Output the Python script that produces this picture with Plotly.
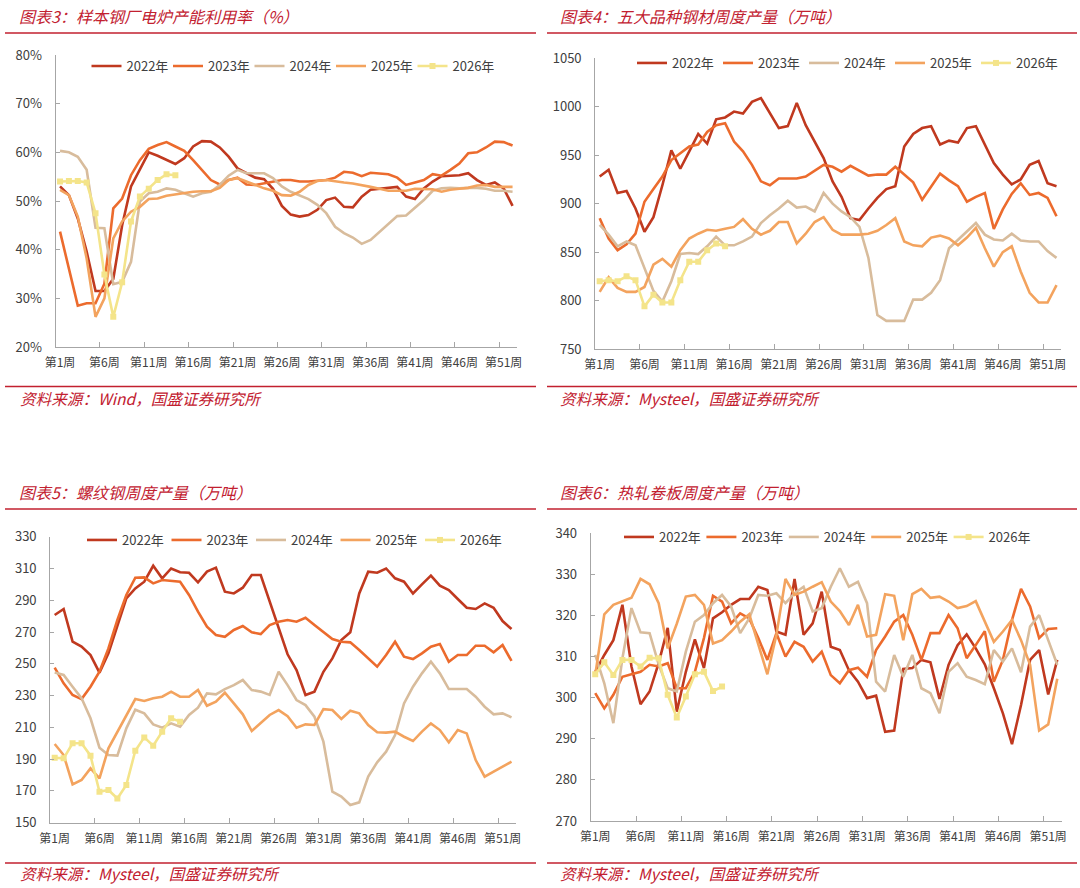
import plotly.graph_objects as go

W, H = 1080, 888

# ---------------- data ----------------
weeks = list(range(1, 53))
week_ticks = [1, 6, 11, 16, 21, 26, 31, 36, 41, 46, 51]
week_tick_labels = [f"第{w}周" for w in week_ticks]
years = ["2022年", "2023年", "2024年", "2025年", "2026年"]

# 图表3 样本钢厂电炉产能利用率（%）
eaf_2022 = [53, 51.2, 46.4, 39.6, 31.5, 31.5, 34, 45, 53, 56.5, 60, 59.3, 58.4, 57.6, 58.8, 61.2, 62.3, 62.2, 61, 59.1,
            56.7, 55.8, 54.8, 54.5, 52.5, 49, 47.2, 46.8, 47.1, 48.2, 50.2, 50.7, 48.8, 48.7, 50.9, 52.3, 52.5, 52.7, 52.9, 50.9,
            50.4, 52.6, 54, 55.1, 55.2, 55.3, 55.7, 54.3, 53.3, 53.8, 52.6, 49]
eaf_2023 = [43.7, 36, 28.5, 29, 29, 33, 48.5, 50.5, 55.3, 58.4, 60.7, 61.5, 62.1, 61.2, 60.3, 58.4, 56.4, 54.3, 53.4, 54.3,
            54.8, 53.4, 53.3, 53.6, 54, 54.3, 54.3, 54, 54, 54.2, 54.3, 54.8, 56, 55.8, 55.1, 55.8, 55.7, 55.5, 54.8, 53.3,
            53.8, 54.3, 55.5, 55.2, 56.4, 57.7, 59.8, 60, 61, 62.2, 62.1, 61.4]
eaf_2024 = [60.3, 60, 59.1, 56.4, 44.5, 44.4, 32.9, 33.4, 37.5, 49.9, 51.6, 51.9, 52.6, 52.3, 51.6, 50.9, 51.6, 51.9, 53.3, 55.2,
            56.4, 55.7, 55.7, 55.7, 54.7, 53, 51.9, 51.1, 50.4, 49.2, 47.5, 44.7, 43.4, 42.5, 41.2, 42, 43.7, 45.4, 46.9, 47,
            48.5, 50.2, 52.1, 52.6, 52.7, 52.6, 52.7, 52.7, 52.5, 52.1, 52.1, 51.9]
eaf_2025 = [52.3, 51.2, 46.8, 38.2, 26.2, 30, 42.3, 45.8, 47.8, 48.8, 50.4, 50.5, 51.1, 51.4, 51.7, 51.9, 52, 52, 52.7, 54.3,
            54.7, 54, 53.3, 52.6, 52.1, 51.2, 51.1, 51.9, 53.3, 54.1, 54.3, 54, 53.8, 53.6, 53.3, 52.9, 52.5, 52.1, 52.1, 52.1,
            52.5, 52.4, 52.4, 51.9, 52.3, 52.5, 52.7, 53.2, 53.3, 52.9, 52.9, 52.9]
eaf_2026 = [54, 54.1, 54.1, 53.8, 47.5, 34.9, 26.2, 33.3, 45.8, 50.9, 52.5, 54.3, 55.5, 55.3]

# 图表4 五大品种钢材周度产量（万吨）
five_2022 = [928, 935, 911, 913, 895, 871, 886, 919, 955, 936, 954, 972, 962, 987, 989, 995, 993, 1005, 1009, 993,
             978, 980, 1004, 981, 964, 947, 923, 907, 885, 883, 895, 906, 915, 918, 959, 972, 978, 980, 961, 965,
             963, 978, 980, 961, 942, 930, 920, 925, 940, 944, 921, 918]
five_2023 = [885, 864, 852, 858, 869, 902, 915, 928, 945, 952, 959, 961, 974, 981, 983, 964, 954, 940, 923, 919,
             926, 926, 926, 928, 934, 940, 938, 933, 939, 934, 929, 930, 930, 938, 930, 922, 904, 918, 931, 924,
             918, 902, 907, 911, 874, 894, 910, 921, 909, 911, 906, 887]
five_2024 = [878, 868, 856, 861, 857, 833, 810, 799, 820, 848, 849, 848, 856, 866, 857, 857, 861, 866, 880, 888,
             895, 903, 896, 897, 892, 911, 900, 892, 886, 876, 844, 785, 779, 779, 779, 801, 801, 808, 821, 854,
             863, 871, 880, 868, 863, 862, 869, 862, 861, 861, 851, 844]
five_2025 = [809, 824, 813, 809, 809, 814, 837, 843, 835, 852, 864, 869, 873, 872, 874, 876, 884, 874, 868, 872,
             881, 881, 859, 869, 881, 886, 873, 868, 868, 868, 869, 872, 878, 885, 861, 857, 856, 865, 867, 864,
             857, 865, 875, 854, 835, 850, 856, 830, 808, 798, 798, 816]
five_2026 = [820, 821, 820, 825, 821, 794, 806, 798, 798, 821, 840, 840, 852, 859, 856]

# 图表5 螺纹钢周度产量（万吨）
rebar_2022 = [280.7, 284.5, 264, 260.8, 255.5, 244.4, 256.6, 273.4, 291.2, 297.5, 301.7, 311.7, 303.8, 310, 307.6, 307.3,
              301.3, 308, 310.5, 295.4, 294.3, 297.9, 305.9, 305.9, 289, 273, 256, 246.1, 230.4, 232.5, 245, 253.4,
              265, 269.8, 294.3, 308, 307.3, 310, 303.8, 301.7, 294.3, 300, 305.5, 299.2, 296.4, 290.8, 285.3, 284.5,
              288, 285.3, 276.9, 271.9]
rebar_2023 = [247.6, 237.7, 230.4, 227.8, 235.6, 245, 259.7, 277.6, 293.3, 304.2, 304.4, 300.6, 302.7, 302.1, 301.7, 293.3,
              282.8, 273.4, 268.1, 267, 271.3, 273.8, 269.8, 268.7, 274.4, 276.5, 277.6, 276.5, 279, 274.4, 269.8, 265.6,
              263.9, 263.5, 258.7, 253.4, 248.2, 255.5, 263.9, 254.5, 253, 256.6, 260.8, 262.5, 251.3, 255.5, 255.5, 261.4,
              261.4, 257.2, 261.8, 251.8]
rebar_2024 = [244.6, 243, 235.6, 228.3, 215.7, 197.2, 192.6, 192.2, 209.4, 221.1, 218.8, 211.9, 209.8, 212.5, 210.4, 217.8,
              222.4, 231.4, 230.8, 234.1, 236.6, 239.8, 233.5, 232.5, 230.4, 245, 236.6, 227.2, 224, 216.7, 201, 169.5,
              166.4, 161.1, 162.8, 179, 188, 194.7, 205.2, 225.1, 235.6, 244, 251.3, 244, 234.1, 234.1, 234.1, 229.3,
              223, 218.2, 218.8, 216.3]
rebar_2025 = [199.5, 192.6, 174.1, 176.9, 184.2, 177.9, 196.8, 207.3, 217.4, 227.8, 226.6, 228.3, 229.3, 232.5, 229.3, 229.3,
              233.5, 223.6, 226.2, 231.8, 225.1, 218.2, 207.7, 212.5, 217.8, 220.9, 217.1, 209.8, 211.9, 211.5, 221.5, 220.9,
              215.3, 220.5, 218.8, 211.5, 206.9, 206.7, 207.3, 204.1, 201.4, 207.3, 212.5, 208.3, 200.6, 208.3, 206.2, 189.4,
              179, 182.1, 185.3, 188.4]
rebar_2026 = [190.9, 190.5, 200, 200, 192.2, 169.5, 170.6, 165.3, 173.7, 195.3, 203.7, 198.5, 207.3, 215.7, 213.6]

# 图表6 热轧卷板周度产量（万吨）
hrc_2022 = [306.3, 310.4, 314, 322.6, 307.6, 298.4, 301.5, 308.4, 317, 296.6, 306.3, 314.2, 307.2, 319.3, 320.8, 322.6,
            324, 324, 327, 326.2, 316.1, 315.3, 328.9, 315.3, 318.1, 325.8, 312.4, 311.6, 306.7, 303.9, 299.9, 300.5,
            291.7, 292, 307, 307.2, 309.2, 308.6, 299.7, 308, 312.8, 315.4, 312, 308.1, 302.3, 296.2, 288.7, 298.2,
            309.2, 311.6, 300.8, 309.2]
hrc_2023 = [301.1, 297.4, 300.7, 305.1, 305.7, 306.3, 308, 307.6, 308.4, 302.3, 302.3, 306.3, 314.5, 324.8, 323.4, 318.1,
            320.5, 319.3, 314.5, 309.2, 315.7, 310, 313.6, 312.4, 308.8, 311.2, 305.5, 303.5, 306.7, 307.3, 305.1, 311.6,
            314.9, 318.5, 320.1, 315.3, 309.2, 315.7, 315.7, 320.1, 316.9, 309.6, 312.8, 316.2, 303.9, 309.2, 318.9, 326.5,
            322.2, 314.5, 316.7, 316.9]
hrc_2024 = [310.4, 303.5, 293.8, 309.6, 321.8, 315.9, 315.7, 308.1, 302.3, 301.5, 311.2, 318.5, 320.1, 323, 325, 322.2,
            315.7, 319.3, 325, 324.8, 325.4, 323, 325.4, 327, 321, 321.8, 327, 331.5, 327, 328.2, 323, 303.9,
            301.5, 310.4, 305.1, 310.4, 302.3, 301.1, 296.2, 306.3, 308.4, 305.1, 304.3, 303.3, 311.6, 308.8, 312, 306.2,
            317.3, 320.1, 314, 308]
hrc_2025 = [305.5, 320.3, 322.6, 323.4, 324.3, 328.9, 327.6, 323, 312, 318, 324.6, 325, 322.6, 313.2, 314, 316.1,
            318.5, 320.3, 312.8, 305.7, 315.3, 328.9, 325, 325.8, 327, 328.1, 323.4, 321.1, 317.7, 322.6, 314.9, 315.3,
            325.2, 324.8, 314, 325.2, 326.5, 324.3, 324.6, 323.4, 321.8, 322.3, 323.5, 318.5, 313.6, 316.1, 318.9, 314,
            308, 292, 293.5, 304.6]
hrc_2026 = [305.7, 308.6, 305.5, 309.2, 309.2, 307.6, 309.7, 309.6, 300.7, 295.2, 300.3, 305.7, 306.3, 301.6, 302.7]

titles = ["图表3：样本钢厂电炉产能利用率（%）", "图表4：五大品种钢材周度产量（万吨）",
          "图表5：螺纹钢周度产量（万吨）", "图表6：热轧卷板周度产量（万吨）"]
sources = ["资料来源：Wind，国盛证券研究所", "资料来源：Mysteel，国盛证券研究所",
           "资料来源：Mysteel，国盛证券研究所", "资料来源：Mysteel，国盛证券研究所"]

panels = [
    [eaf_2022, eaf_2023, eaf_2024, eaf_2025, eaf_2026],
    [five_2022, five_2023, five_2024, five_2025, five_2026],
    [rebar_2022, rebar_2023, rebar_2024, rebar_2025, rebar_2026],
    [hrc_2022, hrc_2023, hrc_2024, hrc_2025, hrc_2026],
]
y_ranges = [[20, 80], [750, 1050], [150, 330], [270, 340]]
y_dticks = [10, 50, 20, 10]
y_suffix = ["%", "", "", ""]

# ---------------- styling / layout ----------------
colors = ["#C0391F", "#EC6B2D", "#D8BC9C", "#F3A35E", "#F4E48A"]
RED = "#C2202F"
AXC = "#A6A6A6"
TXT = "#404040"
FONT = "Noto Sans CJK SC"

def fx(px):
    return px / W

def fy(py):
    return 1 - py / H

# plot areas (left, right, top, bottom) in px
areas = [(55.6, 517, 55, 347), (595.2, 1061, 58.3, 349), (50.2, 516, 536.7, 822.7), (590.7, 1061.8, 533.3, 821)]
legend_pos = [(86.5, 66), (632, 63), (82, 540), (619, 537)]
legend_step = [81.5, 86, 84.5, 82.4]
title_pos = [(17, 16), (558, 16), (17, 492), (558, 492)]
src_pos = [(18, 398), (558, 398), (18, 873), (558, 873)]
rule_x = [(5, 536), (547, 1077), (5, 536), (547, 1077)]
rule_top = [33, 33, 509, 509]
rule_bot = [386.5, 386.5, 863, 863]

fig = go.Figure()
layout = dict(width=W, height=H, margin=dict(l=0, r=0, t=0, b=0, autoexpand=False),
              paper_bgcolor="white", plot_bgcolor="white",
              font=dict(family=FONT, color=TXT), showlegend=True)
annotations = []
shapes = []

for i in range(4):
    sfx = "" if i == 0 else str(i + 1)
    xa, ya = "x" + sfx, "y" + sfx
    leg = "legend" + sfx
    for j, (yr, vals) in enumerate(zip(years, panels[i])):
        is_last = j == 4
        fig.add_trace(go.Scatter(
            x=weeks[:len(vals)], y=vals, name=yr, xaxis=xa, yaxis=ya, legend=leg,
            mode="lines+markers" if is_last else "lines",
            line=dict(color=colors[j], width=2.6),
            marker=dict(symbol="square", size=6, color=colors[j]),
            hoverinfo="skip"))
    l, r, t, b = areas[i]
    layout["xaxis" + sfx] = dict(
        domain=[fx(l), fx(r)], anchor=ya, range=[0.5, 52.5],
        tickmode="array", tickvals=week_ticks, ticktext=week_tick_labels,
        ticks="outside", ticklen=5, tickcolor="rgba(0,0,0,0)",
        minor=dict(tickmode="array", tickvals=[5.5 + 5 * k for k in range(10)],
                   ticks="inside", ticklen=5, tickcolor=AXC, tickwidth=1, showgrid=False),
        showline=True, linecolor=AXC, linewidth=1, showgrid=False, zeroline=False,
        tickfont=dict(size=12, color=TXT, family=FONT), fixedrange=True)
    layout["yaxis" + sfx] = dict(
        domain=[fy(b), fy(t)], anchor=xa, range=y_ranges[i], dtick=y_dticks[i],
        tick0=y_ranges[i][0], ticksuffix=y_suffix[i],
        ticks="inside", ticklen=4, tickcolor=AXC, ticklabelstandoff=10,
        showline=True, linecolor=AXC, linewidth=1, showgrid=False, zeroline=False,
        tickfont=dict(size=13, color=TXT, family=FONT), fixedrange=True)
    lx, lyc = legend_pos[i]
    layout[leg] = dict(
        orientation="h", x=fx(lx), y=fy(lyc), xanchor="left", yanchor="middle",
        xref="paper", yref="paper", bgcolor="rgba(0,0,0,0)",
        font=dict(size=13, color=TXT, family=FONT),
        entrywidthmode="pixels", entrywidth=legend_step[i] - 45, itemwidth=30,
        tracegroupgap=0, traceorder="normal")
    tx, ty = title_pos[i]
    annotations.append(dict(
        text=titles[i], x=fx(tx), y=fy(ty), xref="paper", yref="paper",
        xanchor="left", yanchor="middle", showarrow=False,
        font=dict(size=16, color=RED, family=FONT, style="italic")))
    sx, sy = src_pos[i]
    annotations.append(dict(
        text=sources[i], x=fx(sx), y=fy(sy), xref="paper", yref="paper",
        xanchor="left", yanchor="middle", showarrow=False,
        font=dict(size=15.6, color=RED, family=FONT, style="italic")))
    x0, x1 = rule_x[i]
    for yy in (rule_top[i], rule_bot[i]):
        shapes.append(dict(type="line", xref="paper", yref="paper",
                           x0=fx(x0), x1=fx(x1), y0=fy(yy), y1=fy(yy),
                           line=dict(color=RED, width=1.5)))

layout["annotations"] = annotations
layout["shapes"] = shapes
fig.update_layout(**layout)
fig.write_html("out.html", config={"displayModeBar": False},
               post_script="document.body.style.margin='0';document.body.style.overflow='hidden';")
